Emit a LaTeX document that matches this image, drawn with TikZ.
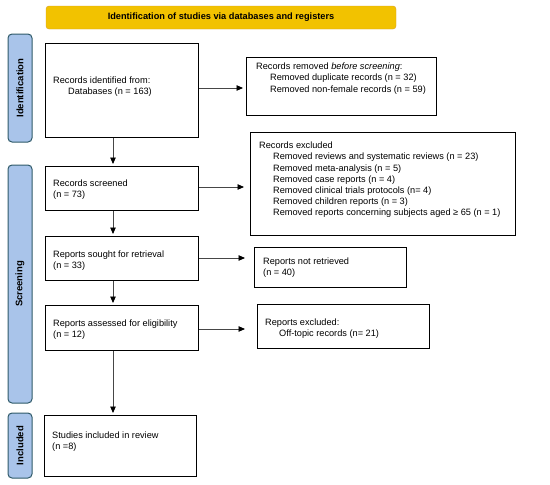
\documentclass[tikz,border=0pt]{standalone}
\usepackage{fontspec}
\setmainfont{Liberation Sans}
\usepackage{tikz}
\usetikzlibrary{arrows.meta}

\definecolor{bannergold}{RGB}{242,194,0}
\definecolor{bannerline}{RGB}{214,160,40}
\definecolor{stagefill}{RGB}{169,196,234}
\definecolor{stageline}{RGB}{47,90,105}
\definecolor{arrowgray}{RGB}{70,70,70}

\begin{document}
\begin{tikzpicture}[x=1pt, y=-1pt,
    box/.style = {draw, line width=0.8pt, anchor=north west, inner sep=0pt},
    txt/.style = {anchor=north west, align=left, inner sep=0pt, font=\fontsize{9.2}{11.1}\selectfont},
    stage/.style = {draw=stageline, fill=stagefill, line width=1pt, rounded corners=4pt, rotate=90, minimum height=24pt, inner sep=0pt, font=\fontsize{9.5}{11}\selectfont\bfseries},
    arr/.style = {draw=arrowgray, line width=0.9pt, -{Triangle[length=6.5pt,width=5.5pt,color=black]}}]
                \useasboundingbox (0,0) rectangle (550,485);
                % banner and stage labels
                \node[draw=bannerline, fill=bannergold, rounded corners=3pt, minimum width=350pt, minimum height=23pt, font=\fontsize{9.2}{11}\selectfont\bfseries] (banner) at (221,17.5) {Identification of studies via databases and registers};
                \node[stage, minimum width=108pt] (identification) at (20,88) {Identification};
                \node[stage, minimum width=238pt] (screening) at (20,284) {Screening};
                \node[stage, minimum width=65pt] (included) at (20,445.5) {Included};
                % boxes
                \node[box, minimum width=153pt, minimum height=94pt] (ident) at (45,43) {};
                \node[box, minimum width=190pt, minimum height=58pt] (removed) at (246,57) {};
                \node[box, minimum width=153pt, minimum height=44pt] (screened) at (45,166) {};
                \node[box, minimum width=265pt, minimum height=103pt] (excluded) at (250,132) {};
                \node[box, minimum width=153pt, minimum height=44pt] (sought) at (45,236) {};
                \node[box, minimum width=152pt, minimum height=40pt] (notret) at (254,247) {};
                \node[box, minimum width=153pt, minimum height=45pt] (assessed) at (45,305) {};
                \node[box, minimum width=172pt, minimum height=44pt] (repexc) at (257,304) {};
                \node[box, minimum width=152pt, minimum height=61pt] (studies) at (44,415) {};
                % texts
                \node[txt] (identtxt) at (53,76.5) {Records identified from:\\\hspace*{15pt}Databases (n = 163)};
                \node[txt] (removedtxt) at (256,63) {Records removed \textit{before screening}:\\\hspace*{14pt}Removed duplicate records (n = 32)\\\hspace*{14pt}Removed non-female records (n = 59)};
                \node[txt] (screenedtxt) at (53,179.5) {Records screened\\(n = 73)};
                \node[txt] (excludedtxt) at (259,142) {Records excluded\\\hspace*{14pt}Removed reviews and systematic reviews (n = 23)\\\hspace*{14pt}Removed meta-analysis (n = 5)\\\hspace*{14pt}Removed case reports (n = 4)\\\hspace*{14pt}Removed clinical trials protocols (n= 4)\\\hspace*{14pt}Removed children reports (n = 3)\\\hspace*{14pt}Removed reports concerning subjects aged ≥ 65 (n = 1)};
                \node[txt] (soughttxt) at (53,250.5) {Reports sought for retrieval\\(n = 33)};
                \node[txt] (notrettxt) at (263,258) {Reports not retrieved\\(n = 40)};
                \node[txt] (assessedtxt) at (53,319.5) {Reports assessed for eligibility\\(n = 12)};
                \node[txt] (repexctxt) at (265,318.5) {Reports excluded:\\\hspace*{14pt}Off-topic records (n= 21)};
                \node[txt] (studiestxt) at (52,432) {Studies included in review\\(n =8)};
                % arrows
                \coordinate (spine) at (113,0);
                \draw[arr, shorten >=2pt] (ident.south -| spine) -- (screened.north -| spine);
                \draw[arr, shorten >=2pt] (screened.south -| spine) -- (sought.north -| spine);
                \draw[arr, shorten >=2pt] (sought.south -| spine) -- (assessed.north -| spine);
                \draw[arr, shorten >=2pt] (assessed.south -| spine) -- (studies.north -| spine);
                \draw[arr, shorten >=3pt] (ident.east |- 0,88) -- (removed.west |- 0,88);
                \draw[arr, shorten >=6pt] (screened.east |- 0,187) -- (excluded.west |- 0,187);
                \draw[arr, shorten >=9pt] (sought.east |- 0,258) -- (notret.west |- 0,258);
                \draw[arr, shorten >=12pt] (assessed.east |- 0,329) -- (repexc.west |- 0,329);
            \end{tikzpicture}
\end{document}
